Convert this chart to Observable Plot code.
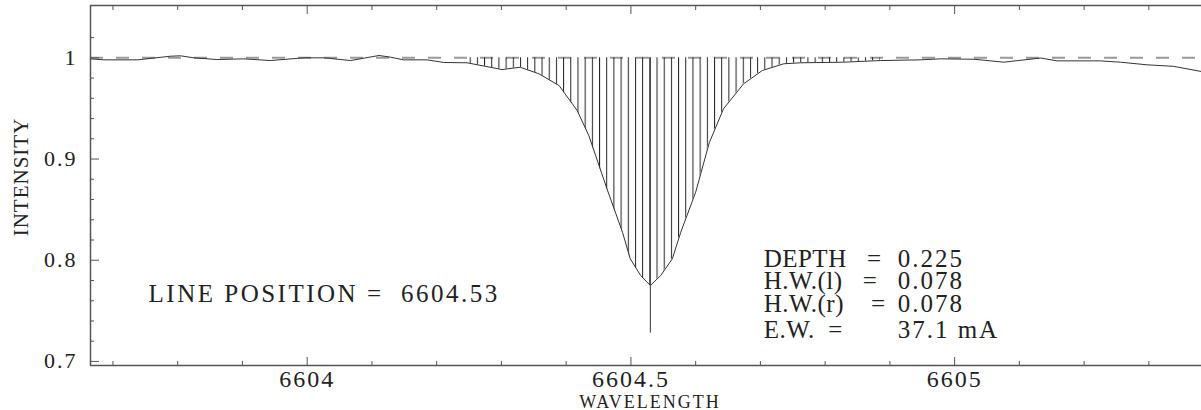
<!DOCTYPE html>
<html>
<head>
<meta charset="utf-8">
<script src="https://cdn.jsdelivr.net/npm/d3@7"></script>
<script src="https://cdn.jsdelivr.net/npm/@observablehq/plot@0.6"></script>
<style>
  html, body { margin: 0; padding: 0; background: #fff; }
  #chart svg { display: block; font-family: "Liberation Serif", serif !important; }
  #chart svg text { white-space: pre; font-family: "Liberation Serif", serif !important; }
  #chart g[aria-label="y-axis tick label"] text { letter-spacing: 2px; }
  #chart g[aria-label="x-axis tick label"] text { letter-spacing: 2px; }
</style>
</head>
<body>
<div id="chart"></div>
<script>
// ---- data ----
const wavelength = [
  6603.665, 6603.686, 6603.738, 6603.789, 6603.804, 6603.825, 6603.861, 6603.902, 6603.943, 6603.995,
  6604.026, 6604.067, 6604.111, 6604.129, 6604.149, 6604.185, 6604.211, 6604.247, 6604.301, 6604.329,
  6604.358, 6604.389, 6604.417, 6604.435, 6604.463, 6604.487, 6604.499, 6604.515, 6604.530, 6604.546,
  6604.564, 6604.577, 6604.600, 6604.621, 6604.643, 6604.674, 6604.703, 6604.736, 6604.762, 6604.829,
  6604.885, 6604.947, 6604.978, 6605.030, 6605.076, 6605.133, 6605.158, 6605.225, 6605.256, 6605.297,
  6605.338, 6605.381
];
const intensity = [
  0.9990, 0.9980, 0.9980, 1.0016, 1.0020, 1.0000, 0.9983, 0.9990, 0.9973, 1.0000,
  1.0000, 0.9973, 1.0023, 1.0006, 0.9980, 0.9980, 0.9954, 0.9951, 0.9884, 0.9907,
  0.9842, 0.9726, 0.9479, 0.9232, 0.8706, 0.8277, 0.8014, 0.7849, 0.7750, 0.7849,
  0.8014, 0.8277, 0.8672, 0.9160, 0.9496, 0.9743, 0.9875, 0.9941, 0.9951, 0.9957,
  0.9973, 0.9980, 0.9990, 0.9986, 0.9957, 0.9998, 0.9970, 0.9970, 0.9957, 0.9931,
  0.9916, 0.9865
];
const continuumLevel = 1;
const lineCenter = 6604.53;
const centerLineBottom = 0.728;
const hatchRange = [6604.247, 6604.886];
const hatchStep = 0.0111;

const yMajorTicks = [0.7, 0.8, 0.9, 1];
const yMinorTicks = [0.72, 0.74, 0.76, 0.78, 0.82, 0.84, 0.86, 0.88, 0.92, 0.94, 0.96, 0.98, 1.02];
const xMajorTicks = [6604, 6604.5, 6605];
const xMinorTicks = [6603.7, 6603.8, 6603.9, 6604.1, 6604.2, 6604.3, 6604.4, 6604.6, 6604.7, 6604.8, 6604.9, 6605.1, 6605.2, 6605.3];

const xTitle = "WAVELENGTH";
const yTitle = "INTENSITY";
const positionText = "LINE POSITION =  6604.53";
const statLabels = ["DEPTH   =", "H.W.(l)   =", "H.W.(r)    =", "E.W.  ="];
const statValues = ["0.225", "0.078", "0.078", "37.1 mA"];

// ---- layout ----
const xDomain = [6603.6653, 6605.3813];
const yDomain = [0.696, 1.0517];
const positionAt = {x: 6603.755, y: 0.767};
const statX = 6604.705;
const statValueX = 6604.912;
const statRowY = [0.8017, 0.7790, 0.7563, 0.7306];

const profile = wavelength.map((w, i) => ({w, v: intensity[i]}));
const hatchData = profile.filter(d => d.w >= hatchRange[0] && d.w <= hatchRange[1]);

const ink = "#222";
const frameInk = "#555";
const serif = "Liberation Serif";

const chart = Plot.plot({
  width: 1201,
  height: 410,
  marginLeft: 90,
  marginRight: 0,
  marginTop: 5,
  marginBottom: 45,
  style: {fontFamily: serif, background: "#fff", color: ink, overflow: "visible"},
  x: {domain: xDomain, axis: null, label: null},
  y: {domain: yDomain, axis: null, label: null},
  marks: [
    Plot.ruleY([continuumLevel], {stroke: "#999", strokeWidth: 2, strokeDasharray: "13,13"}),
    Plot.areaY(hatchData, {x: "w", y1: () => continuumLevel, y2: "v", fill: "url(#hatch)"}),
    Plot.line(profile, {x: "w", y: "v", stroke: "#333", strokeWidth: 1}),
    Plot.ruleX([lineCenter], {y1: centerLineBottom, y2: continuumLevel, stroke: "#333", strokeWidth: 1}),
    // frame (left, bottom, top)
    Plot.ruleX([xDomain[0]], {stroke: frameInk, strokeWidth: 1.5}),
    Plot.ruleY([yDomain[0], yDomain[1]], {stroke: frameInk, strokeWidth: 1.5}),
    // y axis ticks
    Plot.axisY(yMinorTicks, {anchor: "left", tickSize: -4, tickFormat: () => "", color: frameInk, label: null}),
    Plot.axisY(yMajorTicks, {anchor: "left", tickSize: -9, tickPadding: 22, fontSize: 22, fontFamily: serif, tickFormat: d => String(d), color: frameInk, fill: ink, label: null}),
    // x axis ticks (bottom and top)
    Plot.axisX(xMinorTicks, {anchor: "bottom", tickSize: -4, tickFormat: () => "", color: frameInk, label: null}),
    Plot.axisX(xMajorTicks, {anchor: "bottom", tickSize: -8, tickPadding: 12, fontSize: 24, fontFamily: serif, tickFormat: d => String(d), color: frameInk, fill: ink, label: null}),
    Plot.axisX(xMinorTicks, {anchor: "top", tickSize: -4, tickFormat: () => "", color: frameInk, label: null}),
    Plot.axisX(xMajorTicks, {anchor: "top", tickSize: -8, tickFormat: () => "", color: frameInk, label: null}),
    // axis titles
    Plot.text([xTitle], {frameAnchor: "bottom", dx: 4, dy: 37, textAnchor: "middle", lineAnchor: "middle", fontSize: 18, fontFamily: serif, fill: ink}),
    Plot.text([yTitle], {frameAnchor: "left", dx: -69.5, dy: -8.5, rotate: -90, textAnchor: "middle", lineAnchor: "middle", fontSize: 21, fontFamily: serif, fill: ink}),
    // annotations
    Plot.text([positionText], {x: () => positionAt.x, y: () => positionAt.y, textAnchor: "start", lineAnchor: "middle", fontSize: 25, fontFamily: serif, fill: ink}),
    Plot.text(statLabels, {x: () => statX, y: (d, i) => statRowY[i], textAnchor: "start", lineAnchor: "middle", fontSize: 25, fontFamily: serif, fill: ink}),
    Plot.text(statValues, {x: () => statValueX, y: (d, i) => statRowY[i], textAnchor: "start", lineAnchor: "middle", fontSize: 25, fontFamily: serif, fill: ink})
  ]
});

// letter spacing to mimic the wide stroke font of the original
const spacing = new Map([
  [xTitle, "2px"],
  [yTitle, "1px"],
  [positionText, "2.5px"],
  ...statLabels.map(s => [s, "0.5px"]),
  ...statValues.map(s => [s, "2px"])
]);
d3.select(chart).selectAll("text").each(function () {
  const ls = spacing.get(this.textContent);
  if (ls) this.style.letterSpacing = ls;
});

// hatch pattern aligned on the line centre, spaced by hatchStep in wavelength
const sx = chart.scale("x");
const x0 = sx.apply(lineCenter);
const step = sx.apply(lineCenter + hatchStep) - x0;
const defs = d3.select(chart).insert("defs", ":first-child");
const pat = defs.append("pattern")
  .attr("id", "hatch")
  .attr("patternUnits", "userSpaceOnUse")
  .attr("x", x0 - 0.5)
  .attr("y", 0)
  .attr("width", step)
  .attr("height", 410);
pat.append("rect").attr("x", 0).attr("y", 0).attr("width", 1).attr("height", 410).attr("fill", "#222");

document.getElementById("chart").append(chart);
</script>
</body>
</html>
